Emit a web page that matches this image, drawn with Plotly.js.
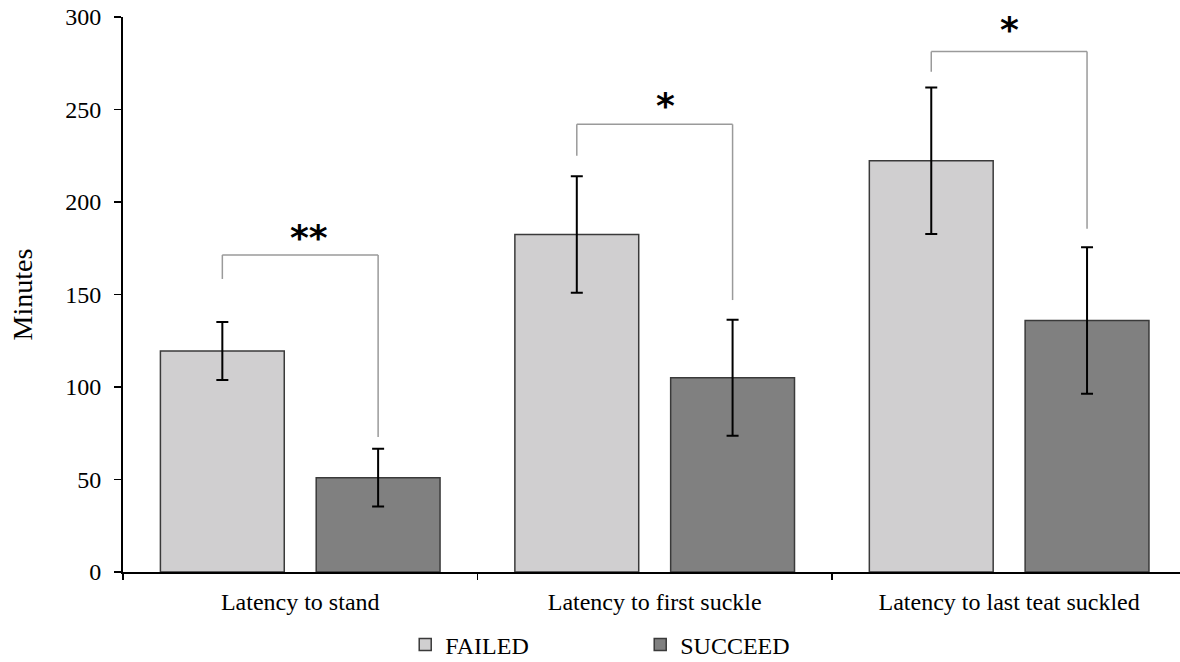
<!DOCTYPE html>
<html>
<head>
<meta charset="utf-8">
<script src="https://cdn.plot.ly/plotly-3.0.1.min.js"></script>
<style>
  html, body { margin: 0; padding: 0; background: #fff; overflow: hidden; }
  #chart { width: 1180px; height: 662px; }
</style>
</head>
<body>
<div id="chart"></div>
<script>
// ---- data ----
const categories = ["Latency to stand", "Latency to first suckle", "Latency to last teat suckled"];
const seriesNames = ["FAILED", "SUCCEED"];
const failedMeans = [119.5, 182.4, 222.3];
const failedErr = [15.7, 31.5, 39.6];
const succeedMeans = [51, 105, 136];
const succeedErr = [15.6, 31.4, 39.6];
const yTicks = [0, 50, 100, 150, 200, 250, 300];

// significance brackets (y values in minutes)
const sigLabels = ["**", "*", "*"];
const bracketTop = [171.4, 242, 281.3];
const bracketLeftEnd = [158.4, 225, 270.4];
const bracketRightEnd = [73, 147, 185.6];
const sigLabelY = [181, 252, 293];

// ---- style ----
const FONT = "Liberation Serif, Times New Roman, serif";
const bargap = 0.121;
const bargroupgap = 0.205;
const off = (1 - bargap) / 4;
const sigXShift = [9, 11, 0];

const traces = [
  {
    type: "bar", name: seriesNames[0], x: categories, y: failedMeans,
    marker: { color: "#d0cfd0", line: { color: "#3a3a3a", width: 1.5 } },
    error_y: { type: "data", array: failedErr, visible: true, color: "#000", thickness: 2, width: 6 },
    hoverinfo: "skip"
  },
  {
    type: "bar", name: seriesNames[1], x: categories, y: succeedMeans,
    marker: { color: "#808080", line: { color: "#3a3a3a", width: 1.5 } },
    error_y: { type: "data", array: succeedErr, visible: true, color: "#000", thickness: 2, width: 6 },
    hoverinfo: "skip"
  }
];

const shapes = [];
const annotations = [];
categories.forEach((c, i) => {
  const xl = i - off, xr = i + off;
  const ln = { color: "#9a9a9a", width: 1.5 };
  shapes.push({ type: "line", xref: "x", yref: "y", x0: xl, x1: xr, y0: bracketTop[i], y1: bracketTop[i], line: ln });
  shapes.push({ type: "line", xref: "x", yref: "y", x0: xl, x1: xl, y0: bracketLeftEnd[i], y1: bracketTop[i], line: ln });
  shapes.push({ type: "line", xref: "x", yref: "y", x0: xr, x1: xr, y0: bracketRightEnd[i], y1: bracketTop[i], line: ln });
  annotations.push({
    xref: "x", yref: "y", x: i, y: sigLabelY[i], text: sigLabels[i], showarrow: false,
    xanchor: "center", yanchor: "middle", xshift: sigXShift[i],
    font: { family: "DejaVu Sans", size: 36, color: "#000", weight: "bold" }
  });
});

const layout = {
  width: 1180, height: 662,
  margin: { l: 123, r: 0, t: 17, b: 90, autoexpand: false },
  paper_bgcolor: "#fff", plot_bgcolor: "#fff",
  barmode: "group", bargap: bargap, bargroupgap: bargroupgap,
  font: { family: FONT, color: "#000" },
  xaxis: {
    type: "category", range: [-0.5, 2.482],
    showline: true, linecolor: "#000", linewidth: 2,
    ticks: "outside", tickson: "boundaries", ticklen: 6, tickwidth: 1.5, tickcolor: "#000",
    tickfont: { family: FONT, size: 24, color: "#000" }, ticklabelstandoff: 7,
    showgrid: false, zeroline: false, fixedrange: true, automargin: false
  },
  yaxis: {
    range: [0, 300], tickvals: yTicks, ticktext: yTicks.map(String),
    showline: true, linecolor: "#000", linewidth: 2,
    ticks: "outside", ticklen: 7, tickwidth: 1.5, tickcolor: "#000",
    tickfont: { family: FONT, size: 24, color: "#000" }, ticklabelstandoff: 8,
    title: { text: "Minutes", font: { family: FONT, size: 28, color: "#000" }, standoff: 24 },
    showgrid: false, zeroline: false, fixedrange: true, automargin: false
  },
  showlegend: true,
  legend: {
    orientation: "h", x: 0.267, xanchor: "left", y: -0.1315, yanchor: "middle",
    font: { family: FONT, size: 24, color: "#000" },
    itemwidth: 30, entrywidth: 190, traceorder: "normal",
    borderwidth: 0, tracegroupgap: 0
  },
  shapes: shapes,
  annotations: annotations
};

Plotly.newPlot("chart", traces, layout, { displayModeBar: false, staticPlot: true });
</script>
</body>
</html>
